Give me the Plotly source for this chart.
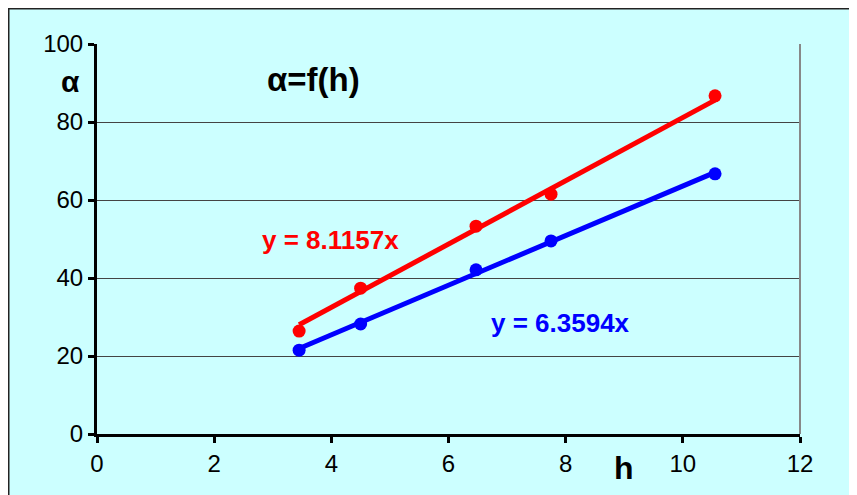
import plotly.graph_objects as go
import numpy as np

# Data
h_values = [3.45, 4.5, 6.47, 7.75, 10.55]
alpha_red = [26.4, 37.4, 53.3, 61.5, 86.7]
alpha_blue = [21.5, 28.2, 42.1, 49.5, 66.7]
slope_red = 8.1157
slope_blue = 6.3594
x_ticks = [0, 2, 4, 6, 8, 10, 12]
y_ticks = [0, 20, 40, 60, 80, 100]

RED = "#FF0000"
BLUE = "#0000FF"
FONT = "Liberation Sans, Arial, sans-serif"

# page has 8px body margin -> figure offset
W, H = 849, 487
L, T, PW, PH = 89, 36, 703, 390

fig = go.Figure()

x_fit = np.array([min(h_values), max(h_values)])
fig.add_trace(go.Scatter(x=x_fit, y=slope_red * x_fit, mode="lines",
                         line=dict(color=RED, width=5), hoverinfo="skip", showlegend=False))
fig.add_trace(go.Scatter(x=x_fit, y=slope_blue * x_fit, mode="lines",
                         line=dict(color=BLUE, width=5), hoverinfo="skip", showlegend=False))
fig.add_trace(go.Scatter(x=h_values, y=alpha_red, mode="markers",
                         marker=dict(color=RED, size=13), showlegend=False))
fig.add_trace(go.Scatter(x=h_values, y=alpha_blue, mode="markers",
                         marker=dict(color=BLUE, size=13), showlegend=False))

# Outer cyan frame
fig.add_shape(type="rect", xref="paper", yref="paper",
              x0=(0.5 - L) / PW, y0=-0.5, x1=1.5, y1=(T + PH - 0.5) / PH,
              line=dict(color="#222222", width=2), fillcolor="#CCFFFF", layer="below")
# Plot area right border
fig.add_shape(type="line", xref="paper", yref="paper", x0=1, y0=0, x1=1, y1=1,
              line=dict(color="#888888", width=2))

fig.add_annotation(x=3.70, y=90.8, text="<b>α=f(h)</b>", showarrow=False,
                   xanchor="center", yanchor="middle",
                   font=dict(family=FONT, size=33, color="black"))
fig.add_annotation(x=3.98, y=49.7, text="<b>y = 8.1157x</b>", showarrow=False,
                   xanchor="center", yanchor="middle",
                   font=dict(family=FONT, size=26, color=RED))
fig.add_annotation(x=7.92, y=28.5, text="<b>y = 6.3594x</b>", showarrow=False,
                   xanchor="center", yanchor="middle",
                   font=dict(family=FONT, size=26, color=BLUE))
fig.add_annotation(xref="paper", yref="paper", x=-0.038, y=0.903, text="<b>α</b>",
                   xanchor="center", yanchor="middle",
                   showarrow=False, font=dict(family=FONT, size=30, color="black"))
fig.add_annotation(x=9.0, yref="paper", y=-0.087, text="<b>h</b>",
                   xanchor="center", yanchor="middle",
                   showarrow=False, font=dict(family=FONT, size=32, color="black"))

fig.update_layout(
    width=W, height=H,
    margin=dict(l=L, r=W - L - PW, t=T, b=H - T - PH),
    paper_bgcolor="white", plot_bgcolor="white",
    font=dict(family=FONT, size=24, color="black"),
)
fig.update_xaxes(range=[0, 12], tickvals=x_ticks, showgrid=False, zeroline=False,
                 showline=True, linecolor="black", linewidth=3,
                 ticks="outside", ticklen=6, tickwidth=3, tickcolor="black",
                 tickfont=dict(size=24))
fig.update_yaxes(range=[0, 100], tickvals=y_ticks, showgrid=True, gridcolor="#444444", gridwidth=1,
                 zeroline=False, showline=True, linecolor="black", linewidth=3,
                 ticks="outside", ticklen=6, tickwidth=3, tickcolor="black",
                 tickfont=dict(size=24))

fig.write_html("out.html")
